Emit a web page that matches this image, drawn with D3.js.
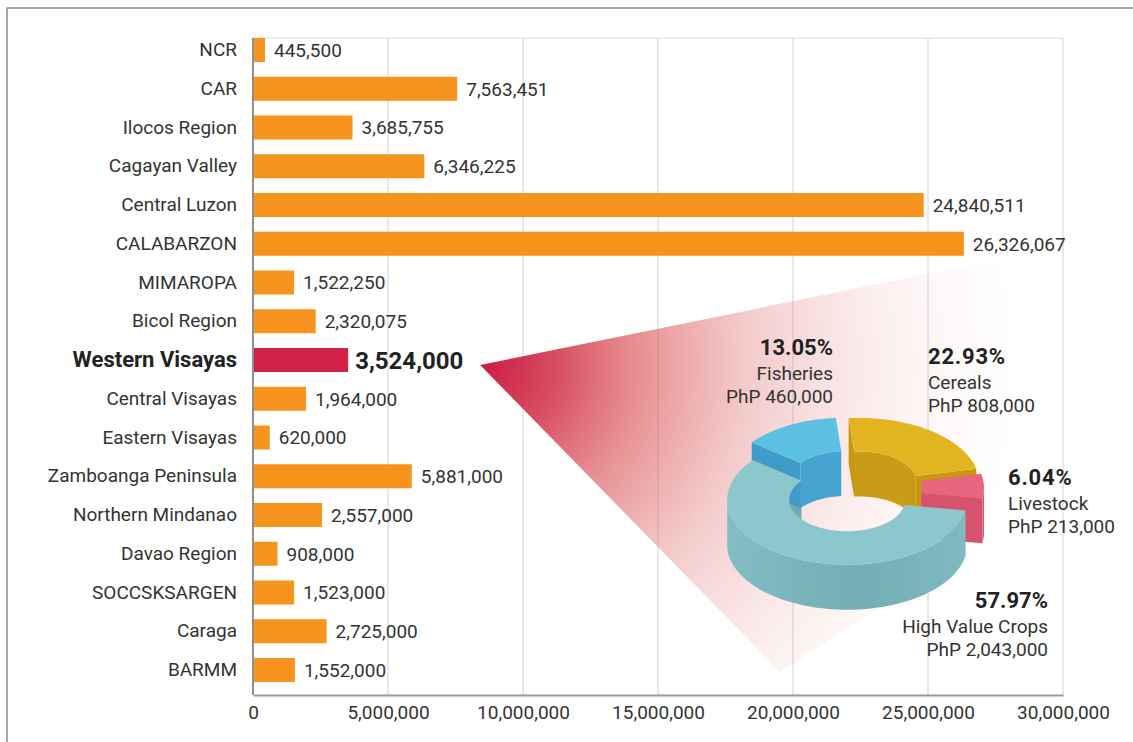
<!DOCTYPE html>
<html>
<head>
<meta charset="utf-8">
<script src="https://cdn.jsdelivr.net/npm/d3@7"></script>
<style>
  html, body { margin: 0; padding: 0; background: #ffffff; }
  svg { display: block; font-family: Roboto, "Noto Sans", Arial, sans-serif; }
</style>
</head>
<body>
<svg id="chart" width="1133" height="742"></svg>
<script>
// ---- Regional budget (PhP) ----
const regions = ["NCR", "CAR", "Ilocos Region", "Cagayan Valley", "Central Luzon", "CALABARZON",
  "MIMAROPA", "Bicol Region", "Western Visayas", "Central Visayas", "Eastern Visayas",
  "Zamboanga Peninsula", "Northern Mindanao", "Davao Region", "SOCCSKSARGEN", "Caraga", "BARMM"];
const budgets = [445500, 7563451, 3685755, 6346225, 24840511, 26326067,
  1522250, 2320075, 3524000, 1964000, 620000,
  5881000, 2557000, 908000, 1523000, 2725000, 1552000];
const highlightRegion = "Western Visayas";
const xTicks = [0, 5000000, 10000000, 15000000, 20000000, 25000000, 30000000];

// ---- Western Visayas breakdown by sector ----
const sectors = ["Cereals", "Livestock", "High Value Crops", "Fisheries"];
const sectorValues = [808000, 213000, 2043000, 460000];
const sectorShares = [22.93, 6.04, 57.97, 13.05];

// ---- layout ----
const svg = d3.select("#chart");
const fmt = d3.format(",");
const plot = { left: 253, right: 1063, top: 38, barsBottom: 682, axisY: 695 };

const x = d3.scaleLinear().domain([0, 30000000]).range([plot.left, plot.right]);
const y = d3.scaleBand().domain(regions).range([plot.top, plot.barsBottom])
  .paddingInner(0.38).paddingOuter(0);

// outer frame
svg.append("path")
  .attr("d", "M7,742V8H1133")
  .attr("fill", "none").attr("stroke", "#8c8c8c").attr("stroke-width", 1.5);

// vertical gridlines and top border
const grid = svg.append("g");
grid.selectAll("line.v").data(xTicks.slice(1)).join("line")
  .attr("class", "v")
  .attr("x1", d => x(d)).attr("x2", d => x(d))
  .attr("y1", plot.top).attr("y2", plot.axisY)
  .attr("stroke", "#d9d9d9").attr("stroke-width", 1.2);
grid.append("line")
  .attr("x1", plot.left).attr("x2", plot.right)
  .attr("y1", plot.top).attr("y2", plot.top)
  .attr("stroke", "#dcdcdc").attr("stroke-width", 1.2);

// fan from the highlighted bar towards the sector donut
const hiY = y(highlightRegion) + y.bandwidth() / 2;
const tip = [x(budgets[regions.indexOf(highlightRegion)]) + 132, hiY + 5];
const defs = svg.append("defs");
const fan = defs.append("radialGradient").attr("id", "fanFill")
  .attr("gradientUnits", "userSpaceOnUse")
  .attr("cx", tip[0]).attr("cy", tip[1]).attr("r", 540);
[[0, "#cc1a42", 1], [0.14, "#d43d52", 0.92], [0.3, "#dc5a5c", 0.66],
 [0.5, "#e07070", 0.36], [0.75, "#e89090", 0.14], [1, "#f0b0b0", 0]]
  .forEach(s => fan.append("stop").attr("offset", s[0])
    .attr("stop-color", s[1]).attr("stop-opacity", s[2]));
svg.append("polygon")
  .attr("points", [tip, [1015, 256], [1010, 520], [780, 672]].map(p => p.join(",")).join(" "))
  .attr("fill", "url(#fanFill)");

// bars
svg.append("g").selectAll("rect").data(regions).join("rect")
  .attr("x", x(0) + 1)
  .attr("y", d => y(d))
  .attr("width", (d, i) => x(budgets[i]) - x(0) - 1)
  .attr("height", y.bandwidth())
  .attr("fill", d => d === highlightRegion ? "#d3224a" : "#f7941d");

// value labels
svg.append("g").selectAll("text").data(regions).join("text")
  .attr("x", (d, i) => x(budgets[i]) + (d === highlightRegion ? 7 : 9))
  .attr("y", d => y(d) + y.bandwidth() / 2)
  .attr("dy", "0.36em")
  .attr("font-size", d => d === highlightRegion ? 24 : 19)
  .attr("font-weight", d => d === highlightRegion ? 700 : 400)
  .attr("fill", d => d === highlightRegion ? "#222" : "#333")
  .text((d, i) => fmt(budgets[i]));

// category axis
const yAxis = svg.append("g")
  .attr("transform", `translate(${plot.left},0)`)
  .call(d3.axisLeft(y).tickSize(0).tickPadding(16));
yAxis.select(".domain").remove();
yAxis.selectAll("text")
  .attr("font-family", "Roboto, 'Noto Sans', Arial, sans-serif")
  .attr("font-size", d => d === highlightRegion ? 22 : 19)
  .attr("font-weight", d => d === highlightRegion ? 700 : 400)
  .attr("fill", d => d === highlightRegion ? "#222" : "#333");
svg.append("line")
  .attr("x1", plot.left).attr("x2", plot.left)
  .attr("y1", plot.top).attr("y2", plot.axisY)
  .attr("stroke", "#8f8f8f").attr("stroke-width", 2);

// value axis
const xAxis = svg.append("g")
  .attr("transform", `translate(0,${plot.axisY})`)
  .call(d3.axisBottom(x).tickValues(xTicks).tickFormat(fmt).tickSize(0).tickSizeOuter(0).tickPadding(11));
xAxis.select(".domain").attr("stroke", "#9a9a9a").attr("stroke-width", 2);
xAxis.selectAll("text")
  .attr("font-family", "Roboto, 'Noto Sans', Arial, sans-serif")
  .attr("font-size", 19).attr("fill", "#333");

// ---- 3D sector donut ----
const deg = Math.PI / 180;
const donut = { cx: 852, cy: 494, R: 120, r: 58, k: 0.54, h: 45, explode: 12, lift: 6 };
const palette = {
  "Cereals":          { top: "#e2b41f", side: "#cfa014", inner: "#c99b16", cut: "#c8960f" },
  "Livestock":        { top: "#e8657f", side: "#d8566f", inner: "#c94d66", cut: "#d6536d" },
  "High Value Crops": { top: "#8bc7cd", side: "url(#hvcSide)", inner: "#70a9af", cut: "#6fa9af" },
  "Fisheries":        { top: "#5cc0e3", side: "#4aa9d3", inner: "#46a4d0", cut: "#3f9bc7" }
};
const hvcGrad = defs.append("linearGradient").attr("id", "hvcSide")
  .attr("gradientUnits", "userSpaceOnUse")
  .attr("x1", 726).attr("y1", 0).attr("x2", 966).attr("y2", 0);
[[0, "#82bec4"], [0.55, "#74adb3"], [1, "#80bac0"]]
  .forEach(s => hvcGrad.append("stop").attr("offset", s[0]).attr("stop-color", s[1]));

const pie = d3.pie().sort(null).value(d => d)
  .startAngle(-5 * deg).endAngle(355 * deg);
const arcs = pie(sectorValues);
const largest = d3.maxIndex(sectorValues);

const P = (c, a, rad, z) => [c[0] + rad * Math.sin(a), c[1] - rad * donut.k * Math.cos(a) + z];
const arcPts = (c, a0, a1, rad, z) => {
  const n = Math.max(2, Math.ceil(Math.abs(a1 - a0) / (1.5 * deg)));
  return d3.range(n + 1).map(i => P(c, a0 + (a1 - a0) * i / n, rad, z));
};
const toPath = pts => "M" + pts.map(p => p[0].toFixed(2) + "," + p[1].toFixed(2)).join("L") + "Z";
const clip = (a0, a1, lo, hi) => {
  const s = Math.max(a0, lo), e = Math.min(a1, hi);
  return s < e ? [s, e] : null;
};

const pieces = arcs.map((a, i) => {
  const mid = (a.startAngle + a.endAngle) / 2;
  const c = [
    donut.cx + donut.explode * Math.sin(mid),
    donut.cy - donut.explode * donut.k * Math.cos(mid) - (i === largest ? 0 : donut.lift)
  ];
  return { name: sectors[i], a0: a.startAngle, a1: a.endAngle, mid, c, col: palette[sectors[i]] };
});

const gDonut = svg.append("g");
// inner walls (seen through the hole) first
pieces.forEach(p => {
  [[-Math.PI / 2, Math.PI / 2], [1.5 * Math.PI, 2.5 * Math.PI]].forEach(([lo, hi]) => {
    const seg = clip(p.a0, p.a1, lo, hi);
    if (!seg) return;
    gDonut.append("path")
      .attr("d", toPath(arcPts(p.c, seg[0], seg[1], donut.r, 0).concat(arcPts(p.c, seg[1], seg[0], donut.r, donut.h))))
      .attr("fill", p.col.inner);
  });
});
// remaining faces, back to front
pieces.slice().sort((a, b) => (-Math.cos(a.mid)) - (-Math.cos(b.mid))).forEach(p => {
  const cutFace = a => [P(p.c, a, donut.r, 0), P(p.c, a, donut.R, 0), P(p.c, a, donut.R, donut.h), P(p.c, a, donut.r, donut.h)];
  if (Math.sin(p.a0) < 0) gDonut.append("path").attr("d", toPath(cutFace(p.a0))).attr("fill", p.col.cut);
  if (Math.sin(p.a1) > 0) gDonut.append("path").attr("d", toPath(cutFace(p.a1))).attr("fill", p.col.cut);
  const seg = clip(p.a0, p.a1, Math.PI / 2, 1.5 * Math.PI);
  if (seg) {
    gDonut.append("path")
      .attr("d", toPath(arcPts(p.c, seg[0], seg[1], donut.R, 0).concat(arcPts(p.c, seg[1], seg[0], donut.R, donut.h))))
      .attr("fill", p.col.side);
  }
  gDonut.append("path")
    .attr("d", toPath(arcPts(p.c, p.a0, p.a1, donut.R, 0).concat(arcPts(p.c, p.a1, p.a0, donut.r, 0))))
    .attr("fill", p.col.top);
});

// sector labels
const labelSpots = {
  "Fisheries":        { x: 833, y: 347, anchor: "end" },
  "Cereals":          { x: 928, y: 356, anchor: "start" },
  "Livestock":        { x: 1008, y: 477, anchor: "start" },
  "High Value Crops": { x: 1048, y: 600, anchor: "end" }
};
const gLab = svg.append("g");
sectors.forEach((name, i) => {
  const s = labelSpots[name];
  const t = gLab.append("text").attr("text-anchor", s.anchor).attr("fill", "#333");
  t.append("tspan").attr("x", s.x).attr("y", s.y).attr("dy", "0.36em")
    .attr("font-size", 22).attr("font-weight", 700).attr("fill", "#222")
    .attr("letter-spacing", s.anchor === "end" ? 0 : 0.8)
    .text(sectorShares[i].toFixed(2) + "%");
  t.append("tspan").attr("x", s.x).attr("y", s.y + 26).attr("dy", "0.36em")
    .attr("font-size", 19).text(name);
  t.append("tspan").attr("x", s.x).attr("y", s.y + 49).attr("dy", "0.36em")
    .attr("font-size", 19).text("PhP " + fmt(sectorValues[i]));
});
</script>
</body>
</html>
